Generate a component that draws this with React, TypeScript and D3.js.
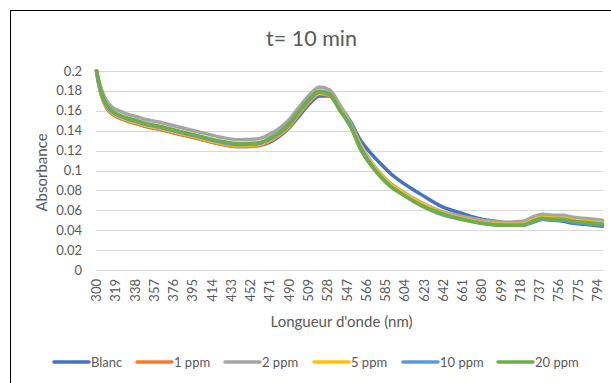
import React from "react";
import * as d3 from "d3";

const title = "t= 10 min";
const yTitle = "Absorbance";
const xTitle = "Longueur d'onde (nm)";

const wavelengths = [300, 302, 305, 310, 315, 320, 330, 340, 350, 360, 380, 400, 420, 440, 460, 470, 480, 490, 500, 510, 520, 530, 540, 550, 560, 570, 580, 590, 600, 620, 640, 660, 680, 700, 720, 730, 740, 750, 760, 770, 780, 790, 799];

const blanc = [0.200, 0.188, 0.175, 0.163, 0.157, 0.154, 0.150, 0.147, 0.144, 0.142, 0.137, 0.132, 0.127, 0.124, 0.125, 0.128, 0.134, 0.143, 0.155, 0.167, 0.175, 0.175, 0.164, 0.150, 0.131, 0.118, 0.107, 0.097, 0.089, 0.076, 0.064, 0.057, 0.051, 0.048, 0.045, 0.048, 0.051, 0.050, 0.049, 0.047, 0.046, 0.045, 0.044];
const ppm1 = [0.200, 0.188, 0.175, 0.163, 0.157, 0.154, 0.150, 0.147, 0.144, 0.142, 0.137, 0.132, 0.127, 0.124, 0.125, 0.129, 0.135, 0.144, 0.157, 0.169, 0.177, 0.175, 0.161, 0.145, 0.125, 0.109, 0.096, 0.086, 0.079, 0.067, 0.058, 0.052, 0.048, 0.046, 0.045, 0.049, 0.052, 0.051, 0.051, 0.049, 0.048, 0.047, 0.046];
const ppm2 = [0.200, 0.192, 0.181, 0.170, 0.164, 0.161, 0.157, 0.154, 0.151, 0.149, 0.144, 0.139, 0.134, 0.131, 0.132, 0.136, 0.142, 0.151, 0.164, 0.176, 0.184, 0.181, 0.166, 0.149, 0.127, 0.110, 0.097, 0.087, 0.080, 0.068, 0.059, 0.054, 0.050, 0.048, 0.049, 0.053, 0.056, 0.055, 0.055, 0.053, 0.052, 0.051, 0.050];
const ppm5 = [0.200, 0.189, 0.176, 0.164, 0.158, 0.155, 0.151, 0.148, 0.145, 0.143, 0.138, 0.133, 0.128, 0.125, 0.126, 0.130, 0.136, 0.145, 0.158, 0.170, 0.178, 0.176, 0.162, 0.146, 0.126, 0.109, 0.096, 0.086, 0.079, 0.067, 0.058, 0.052, 0.048, 0.046, 0.046, 0.050, 0.053, 0.052, 0.052, 0.050, 0.049, 0.048, 0.047];
const ppm10 = [0.200, 0.189, 0.177, 0.165, 0.159, 0.156, 0.152, 0.149, 0.146, 0.144, 0.139, 0.134, 0.129, 0.126, 0.127, 0.131, 0.137, 0.146, 0.159, 0.171, 0.179, 0.176, 0.161, 0.145, 0.124, 0.107, 0.094, 0.084, 0.077, 0.065, 0.056, 0.051, 0.047, 0.045, 0.045, 0.048, 0.051, 0.050, 0.050, 0.048, 0.047, 0.046, 0.045];
const ppm20 = [0.200, 0.190, 0.178, 0.166, 0.160, 0.157, 0.153, 0.150, 0.147, 0.145, 0.140, 0.135, 0.130, 0.127, 0.128, 0.132, 0.138, 0.147, 0.160, 0.172, 0.180, 0.177, 0.160, 0.146, 0.122, 0.106, 0.094, 0.084, 0.077, 0.065, 0.057, 0.051, 0.047, 0.045, 0.045, 0.049, 0.052, 0.051, 0.051, 0.049, 0.048, 0.047, 0.046];

const seriesNames = ["Blanc", "1 ppm", "2 ppm", "5 ppm", "10 ppm", "20 ppm"];
const seriesValues = [blanc, ppm1, ppm2, ppm5, ppm10, ppm20];
const seriesColors = ["#4472C4", "#ED7D31", "#A5A5A5", "#FFC000", "#5B9BD5", "#70AD47"];

const yTicks = [0, 0.02, 0.04, 0.06, 0.08, 0.1, 0.12, 0.14, 0.16, 0.18, 0.2];
const xTickLabels = d3.range(300, 800, 19);

const W = 611;
const H = 383;
const plot = { left: 96, right: 603, top: 71, bottom: 270 };
const legendStarts = [54, 137, 225, 314, 403, 498];
const FONT = "Lato, Carlito, Calibri, sans-serif";

export default function App() {
  const x = d3.scaleLinear().domain([299.5, 799.5]).range([plot.left, plot.right]);
  const y = d3.scaleLinear().domain([0, 0.2]).range([plot.bottom, plot.top]);
  const line = d3
    .line<[number, number]>()
    .x((d) => x(d[0]))
    .y((d) => y(d[1]))
    .curve(d3.curveMonotoneX);

  return (
    <div style={{ position: "absolute", left: 0, top: 0 }}>
      <svg width={W} height={H} style={{ display: "block", background: "#fff" }} fontFamily={FONT}>
        <rect x={0} y={0} width={W} height={H} fill="#fff" />
        <rect x={10.5} y={10.5} width={W + 20} height={H + 20} fill="none" stroke="#000" strokeWidth={1} />
        <text x={(plot.left + plot.right) / 2 - 38} y={46} textAnchor="middle" fontSize={21.5} fill="#595959">
          {title}
        </text>
        {yTicks.map((t) => (
          <g key={t}>
            <line x1={plot.left} x2={plot.right} y1={Math.round(y(t)) + 0.5} y2={Math.round(y(t)) + 0.5} stroke="#d9d9d9" strokeWidth={1} />
            <text x={82} y={y(t)} dy="0.35em" textAnchor="end" fontSize={13} fill="#595959">
              {d3.format("")(+t.toFixed(2))}
            </text>
          </g>
        ))}
        {xTickLabels.map((t) => (
          <text
            key={t}
            transform={`translate(${x(t)},${plot.bottom + 9}) rotate(-90)`}
            dy="0.35em"
            textAnchor="end"
            fontSize={13}
            fill="#595959"
          >
            {t}
          </text>
        ))}
        <text transform={`translate(47,${(plot.top + plot.bottom) / 2 + 2}) rotate(-90)`} textAnchor="middle" fontSize={15} fill="#595959">
          {yTitle}
        </text>
        <text x={(plot.left + plot.right) / 2 - 8} y={327} textAnchor="middle" fontSize={15} fill="#595959">
          {xTitle}
        </text>
        {seriesValues.map((vals, i) => (
          <path
            key={seriesNames[i]}
            d={line(wavelengths.map((w, j) => [w, vals[j]] as [number, number])) || ""}
            fill="none"
            stroke={seriesColors[i]}
            strokeWidth={3.5}
            strokeLinejoin="round"
            strokeLinecap="round"
          />
        ))}
        {seriesNames.map((name, i) => (
          <g key={name}>
            <line x1={legendStarts[i]} x2={legendStarts[i] + 35} y1={362} y2={362} stroke={seriesColors[i]} strokeWidth={3.5} strokeLinecap="round" />
            <text x={legendStarts[i] + 37} y={362} dy="0.35em" fontSize={13} fill="#595959">
              {name}
            </text>
          </g>
        ))}
      </svg>
    </div>
  );
}
